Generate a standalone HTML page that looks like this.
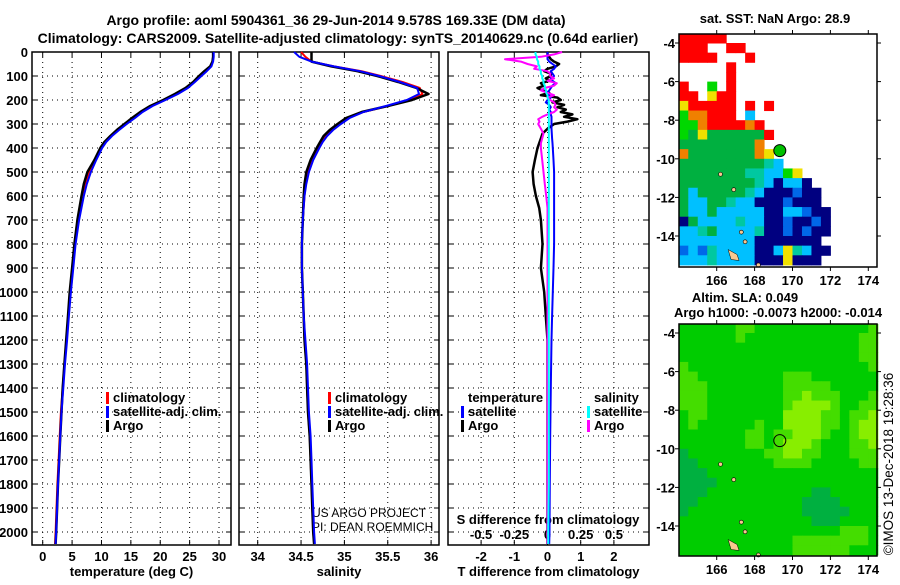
<!DOCTYPE html>
<html><head><meta charset="utf-8"><style>
body{margin:0;background:#fff}
svg text{font-family:"Liberation Sans",Arial,sans-serif;font-weight:bold;font-size:13px;fill:#000}
</style></head><body>
<svg id="c" width="900" height="580" xmlns="http://www.w3.org/2000/svg">
<text x="336" y="25" text-anchor="middle" style="font-size:14px">Argo profile: aoml 5904361_36 29-Jun-2014 9.578S 169.33E (DM data)</text>
<text x="338" y="43" text-anchor="middle" style="font-size:14px">Climatology: CARS2009. Satellite-adjusted climatology: synTS_20140629.nc (0.64d earlier)</text>
<text x="775" y="23" text-anchor="middle">sat. SST: NaN Argo: 28.9</text>
<text x="745" y="302" text-anchor="middle">Altim. SLA: 0.049</text>
<text x="778" y="317" text-anchor="middle">Argo h1000: -0.0073 h2000: -0.014</text>
<text transform="translate(893,464) rotate(-90)" text-anchor="middle" style="font-weight:normal;font-size:13.5px">©IMOS 13-Dec-2018 19:28:36</text>
<text x="312" y="517" style="font-weight:normal;font-size:12px">US ARGO PROJECT</text>
<text x="312" y="531" style="font-weight:normal;font-size:12px">PI: DEAN ROEMMICH</text>
</svg>
<script>
const depths=[0,20,40,60,80,100,125,150,175,200,225,250,275,300,325,350,375,400,450,500,550,600,700,800,900,1000,1100,1200,1300,1400,1500,1600,1700,1800,1900,2000,2050];
const argoT=[29.0,29.0,28.9,28.5,27.5,26.6,25.6,24.3,22.5,20.5,18.3,16.6,15.2,13.9,12.6,11.5,10.5,9.8,8.8,7.6,7.0,6.6,5.9,5.4,5.0,4.6,4.3,4.0,3.7,3.4,3.2,3.0,2.8,2.6,2.45,2.3,2.2];
const climT=[29.0,29.0,28.9,28.6,27.8,26.9,25.8,24.6,22.9,20.8,18.6,16.9,15.6,14.2,12.9,11.6,10.6,9.9,8.9,8.0,7.3,6.8,6.0,5.5,5.1,4.7,4.35,4.05,3.7,3.4,3.1,2.9,2.7,2.5,2.35,2.2,2.1];
const satT=[29.1,29.1,29.0,28.7,27.9,27.0,25.9,24.7,23.0,20.9,18.7,17.0,15.7,14.3,13.0,11.8,10.8,10.1,9.1,8.2,7.5,7.0,6.2,5.6,5.2,4.8,4.45,4.15,3.8,3.5,3.2,3.0,2.8,2.6,2.45,2.3,2.2];
const argoS=[34.62,34.62,34.62,34.85,35.15,35.38,35.62,35.83,35.97,35.78,35.5,35.2,35.02,34.92,34.83,34.76,34.72,34.68,34.61,34.56,34.54,34.53,34.52,34.51,34.51,34.52,34.53,34.54,34.56,34.57,34.58,34.6,34.61,34.62,34.63,34.64,34.65];
const climS=[34.5,34.55,34.62,34.88,35.2,35.42,35.67,35.87,35.9,35.75,35.5,35.22,35.05,34.95,34.86,34.79,34.74,34.7,34.63,34.58,34.55,34.54,34.52,34.51,34.51,34.52,34.53,34.54,34.56,34.57,34.58,34.6,34.61,34.62,34.63,34.64,34.65];
const satS=[34.42,34.48,34.62,34.88,35.18,35.4,35.64,35.84,35.86,35.72,35.48,35.22,35.06,34.96,34.87,34.8,34.75,34.71,34.64,34.59,34.56,34.54,34.52,34.51,34.51,34.52,34.53,34.55,34.57,34.58,34.59,34.61,34.62,34.63,34.64,34.65,34.66];
const diffDepths=[0,10,20,30,40,50,60,70,80,90,100,110,120,130,140,150,160,170,180,190,200,210,220,230,240,250,260,270,280,290,300,320,340,360,380,400,450,500,550,600,650,700,800,900,1000,1100,1200,1400,1600,1800,2000,2050];
const argoTdiff=[0,0,0.05,0.1,0.2,0.35,0.25,0,-0.1,0.1, 0.1,-0.05,0.05,-0.2,-0.1,-0.3,-0.15,0.05,-0.2,0.3, 0.4,0.15,0.5,0.3,0.55,0.4,0.75,0.5,0.9,0.6, 0.2,0,-0.15,-0.2,-0.25,-0.3,-0.38,-0.45,-0.42,-0.35,-0.25,-0.2, -0.15,-0.2,-0.1,-0.05,0,0,0,0,0,0];
const satTdiff=[0,0,0,0,0.05,0.15,0.25,0.2,0.1,0.15, 0.2,0.1,0.15,0.25,0.15,0.1,0.05,0,0.05,0.1, 0,-0.05,0.05,0.1,0.05,0.1,0.1,0.12,0.12,0.12, 0.12,0.12,0.13,0.14,0.15,0.16,0.18,0.2,0.2,0.2,0.2,0.2, 0.2,0.18,0.16,0.14,0.12,0.1,0.08,0.07,0.06,0.05];
const argoSdiff=[0.11,0.05,-0.05,-0.32,-0.2,-0.15,-0.08,-0.1,0,0.02, 0.02,0.05,0,0.07,0.05,-0.02,-0.05,0,0.05,0, 0.02,0.05,0.06,0.05,0.07,0.05,0,-0.04,-0.07,-0.06, -0.07,-0.05,-0.03,-0.04,-0.05,-0.05,-0.04,-0.03,-0.02,-0.01,0,0, 0,0,0,0,0,0,0,0,0,0];
const satSdiff=[-0.09,-0.09,-0.08,-0.08,-0.07,-0.07,-0.06,-0.06,-0.05,-0.05, -0.04,-0.04,-0.03,-0.03,-0.02,-0.02,-0.01,-0.01,0,0, 0.01,0.01,0.01,0.01,0.01,0.01,0.01,0.01,0.01,0.01, 0.01,0.01,0.01,0.01,0.01,0.01,0.01,0.01,0.01,0.01,0.01,0.01, 0.01,0.01,0.01,0.01,0.01,0.01,0.01,0.01,0.005,0.005];
const depthTicks=[0,100,200,300,400,500,600,700,800,900,1000,1100,1200,1300,1400,1500,1600,1700,1800,1900,2000];
const tTicks=[0,5,10,15,20,25,30];
const sTicks=[34,34.5,35,35.5,36];
const sTickLabels=["34","34.5","35","35.5","36"];
const tdTicks=[-2,-1,0,1,2];
const sdTicks=[-0.5,-0.25,0,0.25,0.5];
const sdTickLabels=["-0.5","-0.25","0","0.25","0.5"];
const lonTicks=[166,168,170,172,174];
const latTicks=[-4,-6,-8,-10,-12,-14];
const sstGrid=[
"RRRRR",
"RRR..RR",
"RRRR...R",
".....R",
".....R",
"R..G.R",
"RR.YRR",
"YRRRRR.R.R",
"GOORRR.C",
"GGORRRROR",
"GgYggggggR",
"ggggggggO",
"OgggggggOY",
"gggggggggTC",
"gggggggTTCCGY",
"ggggggggTCNCCN",
"gCgggggTCNNNBNN",
"gCCggTCCNNNBNNN",
"gCCgCCCCCNNCCBNN",
"NgCCCCTCCNNBNNBN",
"CCTgCCCCTNNBNBNN",
"CCCCCCCCNNNNNNN",
"BCBTCCCCNNCYTCNN",
"CCCTCCCCNNNYNNN"];
const slaGrid=[
"aaaaaabbaaaaaaaaaaaab","aaaaaabaaaaaaaaaaaabb","aaaaaaaaaaaaaaaaaaabb","aaaaaaaaaaaaaaaaaaabb",
"baaaaaaaaaaaaaaaaaaab","bbaaaaaaaaabbbaaaaaaa","bbbaaaaaaaabbbbbaaaaa","bbbaaaaaaaabbcbbbaaab",
"bbbaaaaaaaabccccbaabb","abbaaaaaaaaccccbbabbc","abaaaaaabaaccccbbabcc","aaaaaaabbabbcccbaabcc",
"aaaaaaabbabcccbaaabbc","daaaaaaaabbccbbaaabbb","ddaaaaaaaabbbbaaaaabb","dddaaaaaaaaaaaaaaaaaa",
"ddddaaaaaaaaaaaaaaaaa","dddaaaaaaaaaaaddaaaaa","ddaaaaaaaaaaaddddaaaa","daaaaaaaaaaaadddddaaa",
"aaaaaaaaaaaaaadddaaaa","aaaaaaaaaaaaaaaaabbba","aaaaaaaaaaaabbbbbbbba","aaaaaaaaaaaabbbbbbaaa"];
const floatLon=169.33, floatLat=-9.578;

const NS='http://www.w3.org/2000/svg';
const svg=document.getElementById('c');
function el(tag,attrs,parent){const e=document.createElementNS(NS,tag);for(const k in attrs)e.setAttribute(k,attrs[k]);(parent||svg).appendChild(e);return e;}
const yD=d=>52+d*0.24;
const PT={x0:32,x1:231}, PS={x0:239,x1:439}, PD={x0:448,x1:649};
const xT=t=>42.7+t*5.877;
const xS=s=>257.7+(s-34)*86.7;
const xTD=v=>547.5+v*33.2;
const xSD=v=>547.5+v*132.8;
const TOP=52,BOT=545;

function panel(P,name,vt,xf,labels,lblY,title){
  const g=el('g',{});
  
  
  vt.forEach((v,i)=>{
    const l=el('line',{x1:xf(v),x2:xf(v),y1:TOP,y2:BOT,stroke:'#000','stroke-width':1,'stroke-dasharray':'1,4'},g);
    
    
    el('line',{x1:xf(v),x2:xf(v),y1:BOT,y2:BOT-5,stroke:'#000'},g);
    el('line',{x1:xf(v),x2:xf(v),y1:TOP,y2:TOP+5,stroke:'#000'},g);
    if(labels){const t=el('text',{x:xf(v),y:lblY,'text-anchor':'middle'},g);t.textContent=labels[i];
      
      }
  });
  depthTicks.forEach(d=>{if(d===0)return;
    const l=el('line',{x1:P.x0,x2:P.x1,y1:yD(d),y2:yD(d),stroke:'#000','stroke-width':1,'stroke-dasharray':'1,4'},g);
    
    
    el('line',{x1:P.x0,x2:P.x0+5,y1:yD(d),y2:yD(d),stroke:'#000'},g);
    el('line',{x1:P.x1,x2:P.x1-5,y1:yD(d),y2:yD(d),stroke:'#000'},g);
  });
  const f=el('rect',{x:P.x0,y:TOP,width:P.x1-P.x0,height:BOT-TOP,fill:'none',stroke:'#000','stroke-width':1.5},g);
  
  
  const tt=el('text',{x:(P.x0+P.x1)/2,y:576,'text-anchor':'middle'},g);tt.textContent=title;
  
  
  return g;
}
function line(vals,ds,xf,color,name,w){
  const pts=vals.map((v,i)=>xf(v).toFixed(1)+','+yD(ds[i]).toFixed(1)).join(' ');
  const p=el('polyline',{points:pts,fill:'none',stroke:color,'stroke-width':w||2,'stroke-linejoin':'round'});
  
  
}
panel(PT,'temperature-panel',tTicks,xT,tTicks.map(String),561,'temperature (deg C)');
panel(PS,'salinity-panel',sTicks,xS,sTickLabels,561,'salinity');
panel(PD,'difference-panel',tdTicks,xTD,tdTicks.map(String),561,'T difference from climatology');
depthTicks.forEach(d=>{const t=el('text',{x:28,y:yD(d)+5,'text-anchor':'end'});t.textContent=d;
  
  });
sdTicks.forEach((v,i)=>{const t=el('text',{x:xSD(v),y:539,'text-anchor':'middle'});t.textContent=sdTickLabels[i];
  
  });
{const t=el('text',{x:548,y:524,'text-anchor':'middle'});t.textContent='S difference from climatology';
 
 }

line(climT,depths,xT,'#f00','temp-climatology-line');
line(argoT,depths,xT,'#000','temp-argo-line',2.5);
line(satT,depths,xT,'#00f','temp-satellite-line');
line(climS,depths,xS,'#f00','sal-climatology-line');
line(argoS,depths,xS,'#000','sal-argo-line',2.5);
line(satS,depths,xS,'#00f','sal-satellite-line');
line(argoTdiff,diffDepths,xTD,'#000','tdiff-argo-line',2.5);
line(satTdiff,diffDepths,xTD,'#00f','tdiff-satellite-line',2);
line(argoSdiff,diffDepths,xSD,'#f0f','sdiff-argo-line',2);
line(satSdiff,diffDepths,xSD,'#0ff','sdiff-satellite-line',2);

function legend(x,y,color,label,name){
  el('rect',{x:x,y:y-10,width:3,height:12,fill:color});
  const t=el('text',{x:x+7,y:y});t.textContent=label;
  
  
}
legend(106,402,'#f00','climatology','legend-climatology');
legend(106,416,'#00f','satellite-adj. clim.','legend-satellite');
legend(106,430,'#000','Argo','legend-argo');
legend(328,402,'#f00','climatology','legend-climatology-s');
legend(328,416,'#00f','satellite-adj. clim.','legend-satellite-s');
legend(328,430,'#000','Argo','legend-argo-s');
{const t=el('text',{x:468,y:402});t.textContent='temperature';
 
 
 const s=el('text',{x:594,y:402});s.textContent='salinity';
 
 }
legend(461,416,'#00f','satellite','legend-t-satellite');
legend(461,430,'#000','Argo','legend-t-argo');
legend(587,416,'#0ff','satellite','legend-s-satellite');
legend(587,430,'#f0f','Argo','legend-s-argo');

// maps
const MX0=679,MX1=877;
const xL=lon=>716.7+(lon-166)*18.95;
const sstCol={R:'#ff0000',O:'#f08000',Y:'#f0e000',G:'#00d800',g:'#00b040',T:'#00c8a0',C:'#00c0ff',B:'#0068e8',N:'#000080'};
const slaCol={a:'#00cc00',b:'#44dd00',c:'#88ee00',d:'#00b040'};
function map(top,bot,latY0,grid,cols,name,filled){
  const yL=lat=>latY0+(-4-lat)*19.3;
  const g=el('g',{});
  
  
  grid.forEach((row,r)=>{
    for(let c=0;c<row.length;c++){const ch=row[c];if(!cols[ch])continue;
      const lon=164+c*0.5, lat=-3.5-r*0.5;
      const x=xL(lon),y=yL(lat);
      el('rect',{x:Math.max(MX0,x),y:Math.max(top,y),width:xL(lon+0.5)-Math.max(MX0,x)+0.5,height:Math.min(bot,yL(lat-0.5))-Math.max(top,y)+0.5,fill:cols[ch]},g);
    }
  });
  el('path',{d:`M${xL(166.6)},${yL(-14.7)} l3,10 l8,1 l-2,-6 z`,fill:'#f8c890',stroke:'#000','stroke-width':0.5},g);
  [[166.2,-10.8],[167.3,-13.8],[167.5,-14.3],[168.2,-15.5],[166.9,-11.6]].forEach(p=>
    el('circle',{cx:xL(p[0]),cy:yL(p[1]),r:2,fill:'#f8c890',stroke:'#000','stroke-width':0.6},g));
  const m=el('circle',{cx:xL(floatLon),cy:yL(floatLat),r:6,fill:filled?'#00c000':'none',stroke:'#000','stroke-width':1},g);
  
  
  el('rect',{x:MX0,y:top,width:MX1-MX0,height:bot-top,fill:'none',stroke:'#000','stroke-width':1.5},g);
  latTicks.forEach(l=>{const y=yL(l);
    el('line',{x1:MX0-4,x2:MX0,y1:y,y2:y,stroke:'#000'},g);
    el('line',{x1:MX1,x2:MX1+4,y1:y,y2:y,stroke:'#000'},g);
    const t=el('text',{x:675,y:y+5,'text-anchor':'end'},g);t.textContent=l;
    
    });
  lonTicks.forEach(l=>{const x=xL(l);
    el('line',{x1:x,x2:x,y1:bot,y2:bot+4,stroke:'#000'},g);
    el('line',{x1:x,x2:x,y1:top-4,y2:top,stroke:'#000'},g);
    const t=el('text',{x:x,y:bot+18,'text-anchor':'middle'},g);t.textContent=l;
    
    });
}
map(34,267,43,sstGrid,sstCol,'sst-map',true);
map(324,556,333,slaGrid,slaCol,'sla-map',false);
</script>
</body></html>
